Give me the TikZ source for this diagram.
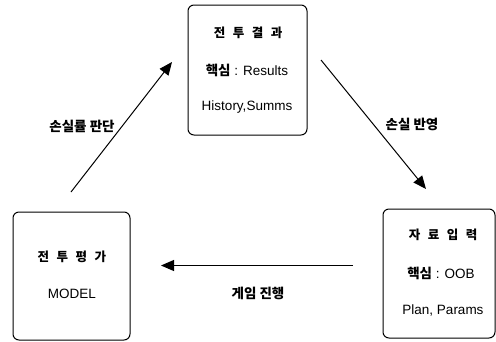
\documentclass[tikz,border=0pt]{standalone}
\usepackage{fontspec}
\setmainfont{Liberation Sans}
\newfontfamily\kr{Noto Sans CJK KR}
\usetikzlibrary{arrows.meta}
\newcommand{\ksp}{\hspace{7.5pt}}
\begin{document}
\begin{tikzpicture}[x=1pt,y=-1pt,
  box/.style={draw,line width=1pt,rounded corners=6pt,inner sep=0pt},
  txt/.style={inner sep=0pt,font=\fontsize{13.5}{15}\selectfont},
  ktxt/.style={inner sep=0pt,font=\kr\bfseries\fontsize{12.5}{14}\selectfont},
  lbl/.style={inner sep=0pt,font=\kr\bfseries\fontsize{13.5}{15}\selectfont},
  arr/.style={line width=1pt,-{Triangle[length=13pt,width=11pt]}}]
\useasboundingbox (0,0) rectangle (496,341);
% boxes
\node[box,minimum width=119pt,minimum height=130pt] (top) at (247.5,70) {};
\node[box,minimum width=117pt,minimum height=128pt] (left) at (71.5,276) {};
\node[box,minimum width=112pt,minimum height=129pt] (right) at (439,273.5) {};
% top texts
\node[ktxt] (t1) at (248,33) {전\ksp 투\ksp 결\ksp 과};
\node[txt] (t2) at (247,70) {{\kr\bfseries 핵심} : Results};
\node[txt] (t3) at (247,107) {History,Summs};
% left texts
\node[ktxt] (l1) at (72,257) {전\ksp 투\ksp 평\ksp 가};
\node[txt] (l2) at (72,294) {MODEL};
% right texts
\node[ktxt] (r1) at (443,235) {자\ksp 료\ksp 입\ksp 력};
\node[txt] (r2) at (441,273) {{\kr\bfseries 핵심} : OOB};
\node[txt] (r3) at (443,310) {Plan, Params};
% arrow endpoints
\coordinate (a1s) at (71,192);
\coordinate (a1e) at (172,62);
\coordinate (a2s) at (321,60);
\coordinate (a2e) at (426,189);
\coordinate (a3s) at (353,265.5);
\coordinate (a3e) at (161,265.5);
\draw[arr] (a1s) -- (a1e);
\draw[arr] (a2s) -- (a2e);
\draw[arr] (a3s) -- (a3e);
% labels
\node[lbl] (lb1) at (82,126) {손실률 판단};
\node[lbl] (lb2) at (412,124) {손실 반영};
\node[lbl] (lb3) at (258,293) {게임 진행};
\end{tikzpicture}
\end{document}
